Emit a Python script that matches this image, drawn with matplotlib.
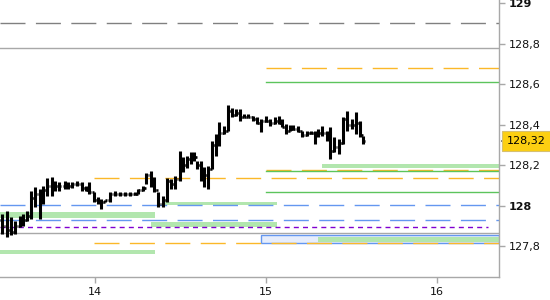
import matplotlib
matplotlib.use("Agg")
import matplotlib.pyplot as plt
from matplotlib.patches import Rectangle

plt.rcParams['font.family'] = ['DejaVu Sans']
plt.rcParams['lines.scale_dashes'] = False

# bar times (days) and high/low/close prices
times = [13.456, 13.485, 13.508, 13.532, 13.561, 13.579, 13.602, 13.625, 13.649, 13.678,
         13.695, 13.719, 13.748, 13.766, 13.789, 13.824, 13.842, 13.865, 13.894, 13.924,
         13.947, 13.964, 13.994, 14.017, 14.035, 14.058, 14.087, 14.117, 14.146, 14.175,
         14.204, 14.233, 14.251, 14.280, 14.298, 14.327, 14.345, 14.368, 14.397, 14.421,
         14.444, 14.467, 14.497, 14.514, 14.538, 14.561, 14.579, 14.596, 14.620, 14.637,
         14.660, 14.684, 14.707, 14.725, 14.754, 14.777, 14.801, 14.824, 14.848, 14.871,
         14.894, 14.924, 14.947, 14.970, 14.999, 15.023, 15.052, 15.076, 15.093, 15.117,
         15.140, 15.157, 15.187, 15.210, 15.239, 15.263, 15.286, 15.304, 15.327, 15.356,
         15.374, 15.397, 15.426, 15.450, 15.473, 15.502, 15.526, 15.549, 15.567]
highs = [127.961, 127.975, 127.946, 127.926, 127.951, 127.961, 127.975, 128.074, 128.093, 128.084,
         128.098, 128.138, 128.143, 128.123, 128.118, 128.123, 128.118, 128.118, 128.123, 128.118,
         128.098, 128.118, 128.069, 128.044, 128.034, 128.030, 128.069, 128.074, 128.069, 128.069,
         128.069, 128.069, 128.084, 128.098, 128.162, 128.172, 128.143, 128.069, 128.049, 128.138,
         128.133, 128.147, 128.270, 128.241, 128.246, 128.265, 128.265, 128.221, 128.221, 128.192,
         128.197, 128.319, 128.354, 128.413, 128.393, 128.496, 128.482, 128.477, 128.477, 128.452,
         128.452, 128.442, 128.437, 128.428, 128.442, 128.428, 128.437, 128.442, 128.428, 128.403,
         128.398, 128.398, 128.393, 128.369, 128.369, 128.369, 128.369, 128.378, 128.393, 128.369,
         128.388, 128.339, 128.329, 128.437, 128.467, 128.428, 128.462, 128.418, 128.344]
lows = [127.862, 127.848, 127.858, 127.862, 127.897, 127.902, 127.926, 127.936, 127.995, 127.936,
        128.010, 128.049, 128.049, 128.074, 128.074, 128.084, 128.084, 128.088, 128.098, 128.074,
        128.074, 128.059, 128.020, 128.010, 127.985, 128.020, 128.020, 128.049, 128.049, 128.049,
        128.049, 128.054, 128.059, 128.074, 128.108, 128.093, 128.069, 127.995, 127.995, 128.020,
        128.084, 128.084, 128.123, 128.167, 128.187, 128.206, 128.221, 128.182, 128.123, 128.093,
        128.084, 128.182, 128.246, 128.295, 128.354, 128.369, 128.437, 128.442, 128.418, 128.437,
        128.437, 128.418, 128.403, 128.364, 128.413, 128.393, 128.403, 128.403, 128.388, 128.354,
        128.369, 128.374, 128.364, 128.339, 128.344, 128.354, 128.305, 128.339, 128.344, 128.319,
        128.231, 128.265, 128.256, 128.305, 128.369, 128.378, 128.354, 128.339, 128.305]
closes = [127.90, 127.88, 127.87, 127.90, 127.92, 127.93, 127.95, 128.04, 128.06, 128.02,
          128.08, 128.10, 128.10, 128.10, 128.10, 128.11, 128.10, 128.11, 128.11, 128.09,
          128.08, 128.07, 128.03, 128.02, 128.02, 128.03, 128.06, 128.06, 128.06, 128.06,
          128.06, 128.06, 128.08, 128.09, 128.15, 128.11, 128.08, 128.01, 128.03, 128.12,
          128.11, 128.13, 128.22, 128.20, 128.23, 128.23, 128.24, 128.20, 128.14, 128.15,
          128.18, 128.30, 128.34, 128.36, 128.37, 128.47, 128.45, 128.46, 128.44, 128.44,
          128.44, 128.43, 128.41, 128.42, 128.42, 128.41, 128.42, 128.41, 128.39, 128.37,
          128.38, 128.38, 128.37, 128.35, 128.36, 128.36, 128.35, 128.36, 128.36, 128.33,
          128.27, 128.29, 128.31, 128.43, 128.40, 128.40, 128.41, 128.35, 128.32]
first_open = 127.93
last_price = 128.32

# horizontal levels: (price, start day, end day, color, style)
x_lo, x_hi = 13.444, 16.363
levels = [
    (128.904, x_lo, x_hi, '#808080', 'dash'),
    (128.780, x_lo, x_hi, '#a8a8a8', 'solid'),
    (128.683, 15.0, x_hi, '#fbb829', 'dash'),
    (128.610, 15.0, x_hi, '#5cc45c', 'solid'),
    (128.175, 15.0, x_hi, '#fbb829', 'dash'),
    (128.170, 15.0, x_hi, '#5cc45c', 'solid'),
    (128.138, 13.994, x_hi, '#fbb829', 'dash'),
    (128.069, 15.0, x_hi, '#5cc45c', 'solid'),
    (128.003, x_lo, x_hi, '#6497f0', 'dash'),
    (127.931, x_lo, x_hi, '#6497f0', 'dash'),
    (127.897, x_lo, 16.298, '#8000d0', 'dot'),
    (127.867, x_lo, x_hi, '#a8a8a8', 'solid'),
]
# light green zones: (low, high, start, end)
zones = [
    (128.189, 128.205, 15.327, x_hi),
    (128.004, 128.020, 14.397, 15.064),
    (127.942, 127.970, x_lo, 14.350),
    (127.897, 127.922, 14.327, 15.064),
    (127.823, 127.845, 15.304, x_hi),
    (127.764, 127.780, x_lo, 14.350),
]
box_lo, box_hi, box_start = 127.818, 127.858, 14.970
bottom_level = 127.818

fig = plt.figure(figsize=(5.5, 3), dpi=100)
ax = fig.add_axes([0, 23 / 300, 499 / 550, 277 / 300])

styles = {'dash': (0, (18, 7.5)), 'dot': (0, (3.6, 3)), 'solid': '-'}
for y, x0, x1, c, s in levels:
    ax.plot([x0, x1], [y, y], color=c, lw=1.0, linestyle=styles[s], zorder=2)

ax.add_patch(Rectangle((box_start, box_lo), x_hi - box_start, box_hi - box_lo,
                       facecolor='#e6edfc', edgecolor='#6497f0', lw=1.0, zorder=1))
for lo, hi, x0, x1 in zones:
    ax.add_patch(Rectangle((x0, lo), x1 - x0, hi - lo, facecolor='#b2e6ae',
                           edgecolor='none', zorder=1.5))
ax.plot([13.994, x_hi], [bottom_level, bottom_level], color='#fbb829', lw=1.0,
        linestyle=(0, (18, 7.5)), zorder=2)

# OHLC bars
opens = [first_open] + closes[:-1]
tw = 0.012
ax.vlines(times, lows, highs, color='black', lw=2.2, zorder=4)
ax.hlines(closes, times, [t + tw for t in times], color='black', lw=1.8, zorder=4)
ax.hlines(opens, [t - tw for t in times], times, color='black', lw=1.8, zorder=4)

ax.set_xlim(x_lo, x_hi)
ax.set_ylim(127.648, 129.017)

for s in ['left', 'top']:
    ax.spines[s].set_visible(False)
for s in ['right', 'bottom']:
    ax.spines[s].set_color('#a8a8a8')
    ax.spines[s].set_linewidth(1.0)

ax.yaxis.tick_right()
yticks = [127.8, 128.0, 128.2, 128.4, 128.6, 128.8, 129.0]
ylabels = ['127,8', '128', '128,2', '128,4', '128,6', '128,8', '129']
ax.set_yticks(yticks)
ax.set_yticklabels(ylabels)
ax.set_xticks([14, 15, 16])
ax.set_xticklabels(['14', '15', '16'])
ax.tick_params(axis='both', colors='#a8a8a8', labelcolor='#111111', labelsize=8,
               length=4, width=1.0, pad=3)
for lab in ax.get_yticklabels():
    if lab.get_text() in ('128', '129'):
        lab.set_fontweight('bold')

# current price marker
ax.annotate('', xy=(1.0, last_price), xycoords=('axes fraction', 'data'),
            xytext=(1.012, last_price), textcoords=('axes fraction', 'data'),
            arrowprops=dict(arrowstyle='-', color='black', lw=1))
ax.text(1.016, last_price, '128,32', transform=ax.get_yaxis_transform(),
        va='center', ha='left', fontsize=8, color='black', zorder=6,
        bbox=dict(boxstyle='square,pad=0.42', facecolor='#fccf12', edgecolor='#d6c070', lw=0.8),
        clip_on=False)

plt.savefig('out.png', dpi=100)
